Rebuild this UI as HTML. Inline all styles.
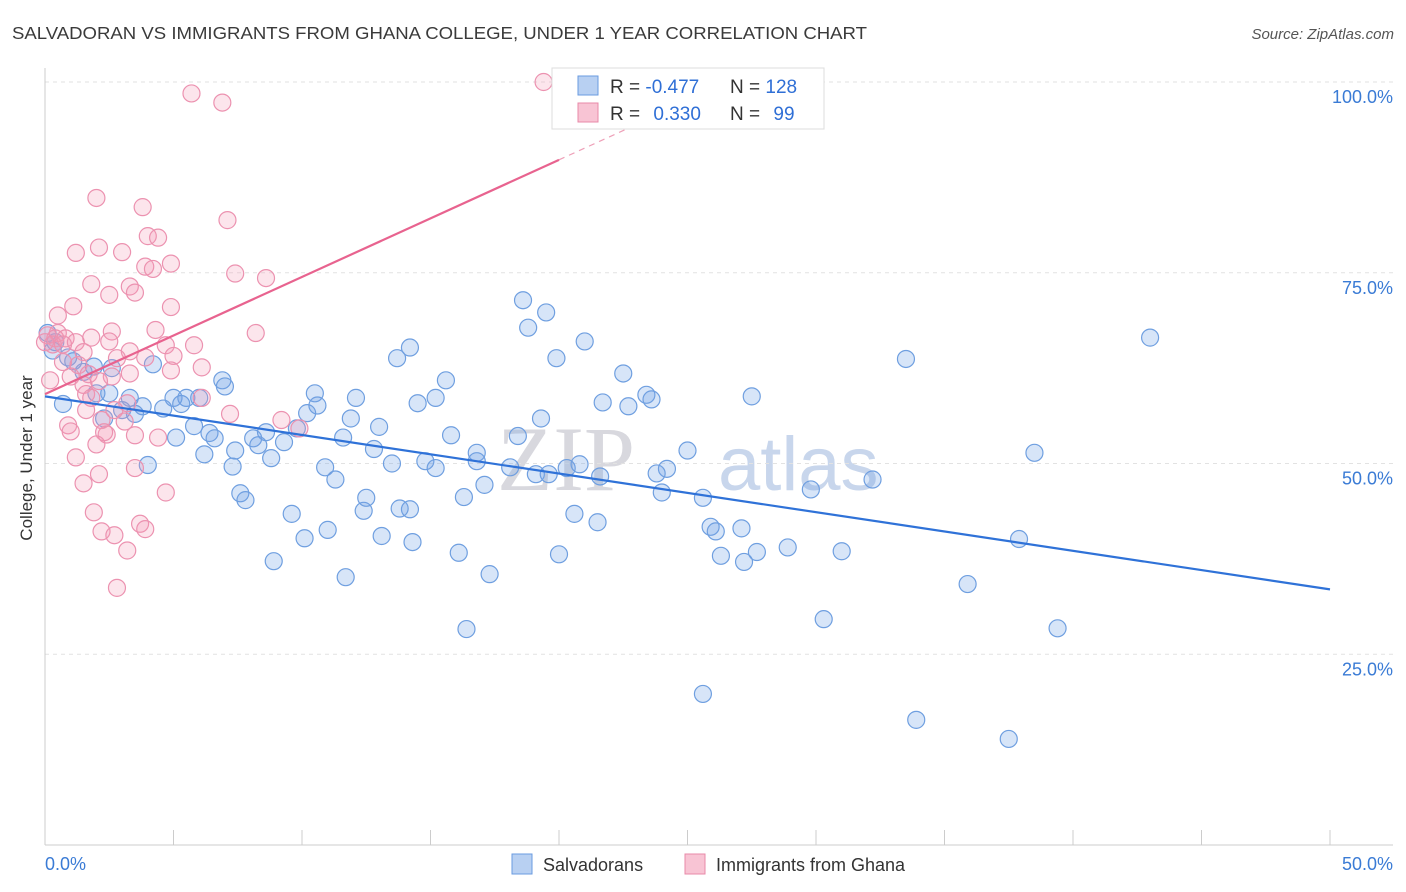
<!DOCTYPE html>
<html><head><meta charset="utf-8"><style>
body{margin:0;background:#fff;font-family:"Liberation Sans",sans-serif;}
#wrap{position:relative;width:1406px;height:892px;overflow:hidden;}
</style></head><body>
<div id="wrap">
<svg id="svg" width="1406" height="892">
<text x="12" y="39" font-size="17.5" fill="#3a3a3a" textLength="855" lengthAdjust="spacingAndGlyphs">SALVADORAN VS IMMIGRANTS FROM GHANA COLLEGE, UNDER 1 YEAR CORRELATION CHART</text>
<text x="1394" y="39" font-size="15" fill="#555" font-style="italic" text-anchor="end">Source: ZipAtlas.com</text>
<text x="32" y="458" font-size="17" fill="#333" text-anchor="middle" transform="rotate(-90 32 458)">College, Under 1 year</text>
<text x="635" y="490" font-size="92" fill="#d8d8de" font-family="Liberation Serif,serif" text-anchor="end">ZIP</text>
<text x="718" y="490" font-size="76" fill="#c8d6ec">atlas</text>
<g id="grid"></g><g id="pts"></g><g id="lines"></g>
<g>
<rect x="552" y="68" width="272" height="61" fill="#fff" stroke="#ddd"/>
<rect x="578" y="76" width="20" height="19" fill="#b8d0f2" stroke="#6a9be0"/>
<rect x="578" y="103" width="20" height="19" fill="#f8c4d4" stroke="#e88aa8"/>
<text x="610" y="93" font-size="19" fill="#333">R = <tspan fill="#2f6fd6">-0.477</tspan></text>
<text x="730" y="93" font-size="19" fill="#333">N = <tspan fill="#2f6fd6">128</tspan></text>
<text x="610" y="120" font-size="19" fill="#333">R = <tspan fill="#2f6fd6" dx="8">0.330</tspan></text>
<text x="730" y="120" font-size="19" fill="#333">N = <tspan fill="#2f6fd6" dx="8">99</tspan></text>
</g>
<g>
<rect x="512" y="854" width="20" height="20" fill="#b8d0f2" stroke="#6a9be0"/>
<text x="543" y="871" font-size="18" fill="#333">Salvadorans</text>
<rect x="685" y="854" width="20" height="20" fill="#f8c4d4" stroke="#e88aa8"/>
<text x="716" y="871" font-size="18" fill="#333">Immigrants from Ghana</text>
</g>
</svg>
</div>
<script>
const yTicks=[25,50,75,100];
const xTickLabels=["0.0%","50.0%"];
const blueX=[18.6,19.5,18.8,21.0,19.9,14.2,13.7,15.6,15.2,14.5,12.1,10.5,10.6,6.9,7.0,4.2,1.9,2.6,0.9,1.5,2.0,3.3,5.0,5.5,6.0,5.3,4.6,3.8,3.0,3.5,2.3,5.8,5.1,6.4,6.6,6.2,7.3,7.4,8.1,8.6,8.3,8.8,9.3,9.8,10.2,11.6,11.9,13.0,12.8,13.5,14.8,15.8,16.8,16.8,18.1,18.4,19.3,19.1,19.6,20.3,20.8,21.6,22.5,21.7,22.7,23.4,23.6,24.2,23.8,24.0,25.0,25.6,25.9,26.1,27.1,26.3,27.2,27.7,28.9,27.5,31.0,29.8,30.3,32.2,33.5,35.9,38.5,37.9,39.4,43.0,33.9,37.5,25.6,16.4,17.3,16.1,20.0,20.6,21.5,16.3,17.1,15.2,14.2,13.8,13.1,14.3,12.4,12.5,11.0,10.1,11.7,8.9,9.6,7.6,7.8,11.3,10.9,4.0,0.7,1.1,0.3,0.1,0.4,2.5];
const blueY=[71.4,69.8,67.8,66.0,63.8,65.2,63.8,60.9,58.6,57.9,58.6,59.2,57.6,60.9,60.1,63.0,62.7,62.5,63.9,62.0,59.2,58.6,58.6,58.6,58.6,57.8,57.2,57.5,57.0,56.5,55.9,54.9,53.4,54.0,53.3,51.2,49.6,51.7,53.3,54.1,52.4,50.7,52.8,54.6,56.6,53.4,55.9,54.8,51.9,50.0,50.3,53.7,51.4,50.3,49.5,53.6,55.9,48.6,48.6,49.4,49.9,48.3,61.8,58.0,57.5,59.0,58.4,49.3,48.7,46.2,51.7,45.5,41.7,41.1,41.5,37.9,37.1,38.4,39.0,58.8,38.5,46.6,29.6,47.9,63.7,34.2,51.4,40.1,28.4,66.5,16.4,13.9,19.8,28.3,35.5,38.3,38.1,43.4,42.3,45.6,47.2,49.4,44.0,44.1,40.5,39.7,43.8,45.5,41.3,40.2,35.1,37.2,43.4,46.1,45.2,47.9,49.5,49.8,57.8,63.4,64.8,67.1,65.9,59.2];
const pinkX=[19.4,5.7,6.9,2.0,3.8,7.1,4.0,4.4,2.1,3.0,1.2,3.9,4.2,4.9,7.4,8.6,1.8,3.3,2.5,3.5,1.1,4.9,0.5,2.6,1.8,4.3,8.2,0.5,0.1,0.4,0.8,0.3,0.7,1.2,0.0,4.7,5.8,2.5,3.3,1.5,2.8,3.9,5.0,4.9,1.3,0.7,1.7,0.2,1.0,2.6,2.1,3.3,1.5,1.6,3.2,1.8,2.7,1.6,3.1,2.2,0.9,1.0,2.4,2.3,2.0,3.5,4.4,1.2,3.5,2.1,1.5,4.7,1.9,3.7,3.9,2.2,2.7,3.2,2.8,6.1,7.2,9.2,9.9,6.1];
const pinkY=[100,98.5,97.3,84.8,83.6,81.9,79.8,79.6,78.3,77.7,77.6,75.8,75.5,76.2,74.9,74.3,73.5,73.2,72.1,72.4,70.6,70.5,69.4,67.3,66.5,67.5,67.1,67.1,66.8,66.4,66.4,65.6,65.6,65.9,65.9,65.5,65.5,66.0,64.7,64.6,63.8,63.9,64.1,62.2,62.9,63.3,61.7,60.9,61.4,61.4,60.8,61.8,60.3,59.1,57.9,58.6,57.0,57.0,55.5,55.7,55.0,54.2,53.8,54.1,52.5,53.7,53.4,50.8,49.4,48.6,47.4,46.2,43.6,42.1,41.4,41.1,40.6,38.6,33.7,58.6,56.5,55.7,54.6,62.6];
const blueTrend=[58.8,33.5];
const pinkTrend=[59.1,89.8];
const pinkSolidEnd=20.0, pinkDashEnd=23.2;
const NS="http://www.w3.org/2000/svg";
const X0=45,X1=1330,Y0=845,Y100=82;
function sx(v){return X0+(X1-X0)*v/50;}
function sy(v){return Y0-(Y0-Y100)*v/100;}
function mk(t,a,p){const e=document.createElementNS(NS,t);for(const k in a)e.setAttribute(k,a[k]);p.appendChild(e);return e;}
const grid=document.getElementById('grid');
for(const t of yTicks){
 const l=mk('line',{x1:X0,x2:1393,y1:sy(t),y2:sy(t),stroke:'#e2e2e2','stroke-dasharray':'4,4'},grid);
 
 
 const tx=mk('text',{x:1393,y:sy(t)+21,'font-size':18,fill:'#3a7bd5','text-anchor':'end'},grid);
 tx.textContent=t.toFixed(1)+'%';
 
 
}
const ax=mk('line',{x1:X0,x2:1393,y1:Y0,y2:Y0,stroke:'#ccc'},grid);


const ay=mk('line',{x1:X0,x2:X0,y1:68,y2:Y0,stroke:'#ccc'},grid);


for(let i=0;i<=10;i++){
 const tk=mk('line',{x1:sx(i*5),x2:sx(i*5),y1:830,y2:Y0,stroke:'#ccc'},grid);
 
 
}
const xl0=mk('text',{x:45,y:870,'font-size':18,fill:'#3a7bd5'},grid);xl0.textContent=xTickLabels[0];


const xl1=mk('text',{x:1393,y:870,'font-size':18,fill:'#3a7bd5','text-anchor':'end'},grid);xl1.textContent=xTickLabels[1];


const pts=document.getElementById('pts');
for(let i=0;i<blueX.length;i++){
 const c=mk('circle',{cx:sx(blueX[i]),cy:sy(blueY[i]),r:8.5,fill:'rgba(110,160,230,0.28)',stroke:'#6f9fe0','stroke-width':1.2},pts);
 
 
}
for(let i=0;i<pinkX.length;i++){
 const c=mk('circle',{cx:sx(pinkX[i]),cy:sy(pinkY[i]),r:8.5,fill:'rgba(245,150,180,0.25)',stroke:'#ec92b0','stroke-width':1.2},pts);
 
 
}
const lines=document.getElementById('lines');
const bl=mk('line',{x1:sx(0),y1:sy(blueTrend[0]),x2:sx(50),y2:sy(blueTrend[1]),stroke:'#2f72d8','stroke-width':2.2},lines);


const slope=(pinkTrend[1]-pinkTrend[0])/pinkSolidEnd;
const pl=mk('line',{x1:sx(0),y1:sy(pinkTrend[0]),x2:sx(pinkSolidEnd),y2:sy(pinkTrend[1]),stroke:'#e8638f','stroke-width':2.2},lines);


const pd=mk('line',{x1:sx(pinkSolidEnd),y1:sy(pinkTrend[1]),x2:sx(pinkDashEnd),y2:sy(pinkTrend[0]+slope*pinkDashEnd),stroke:'#eea0b8','stroke-width':1.2,'stroke-dasharray':'6,5'},lines);


</script>
</body></html>
